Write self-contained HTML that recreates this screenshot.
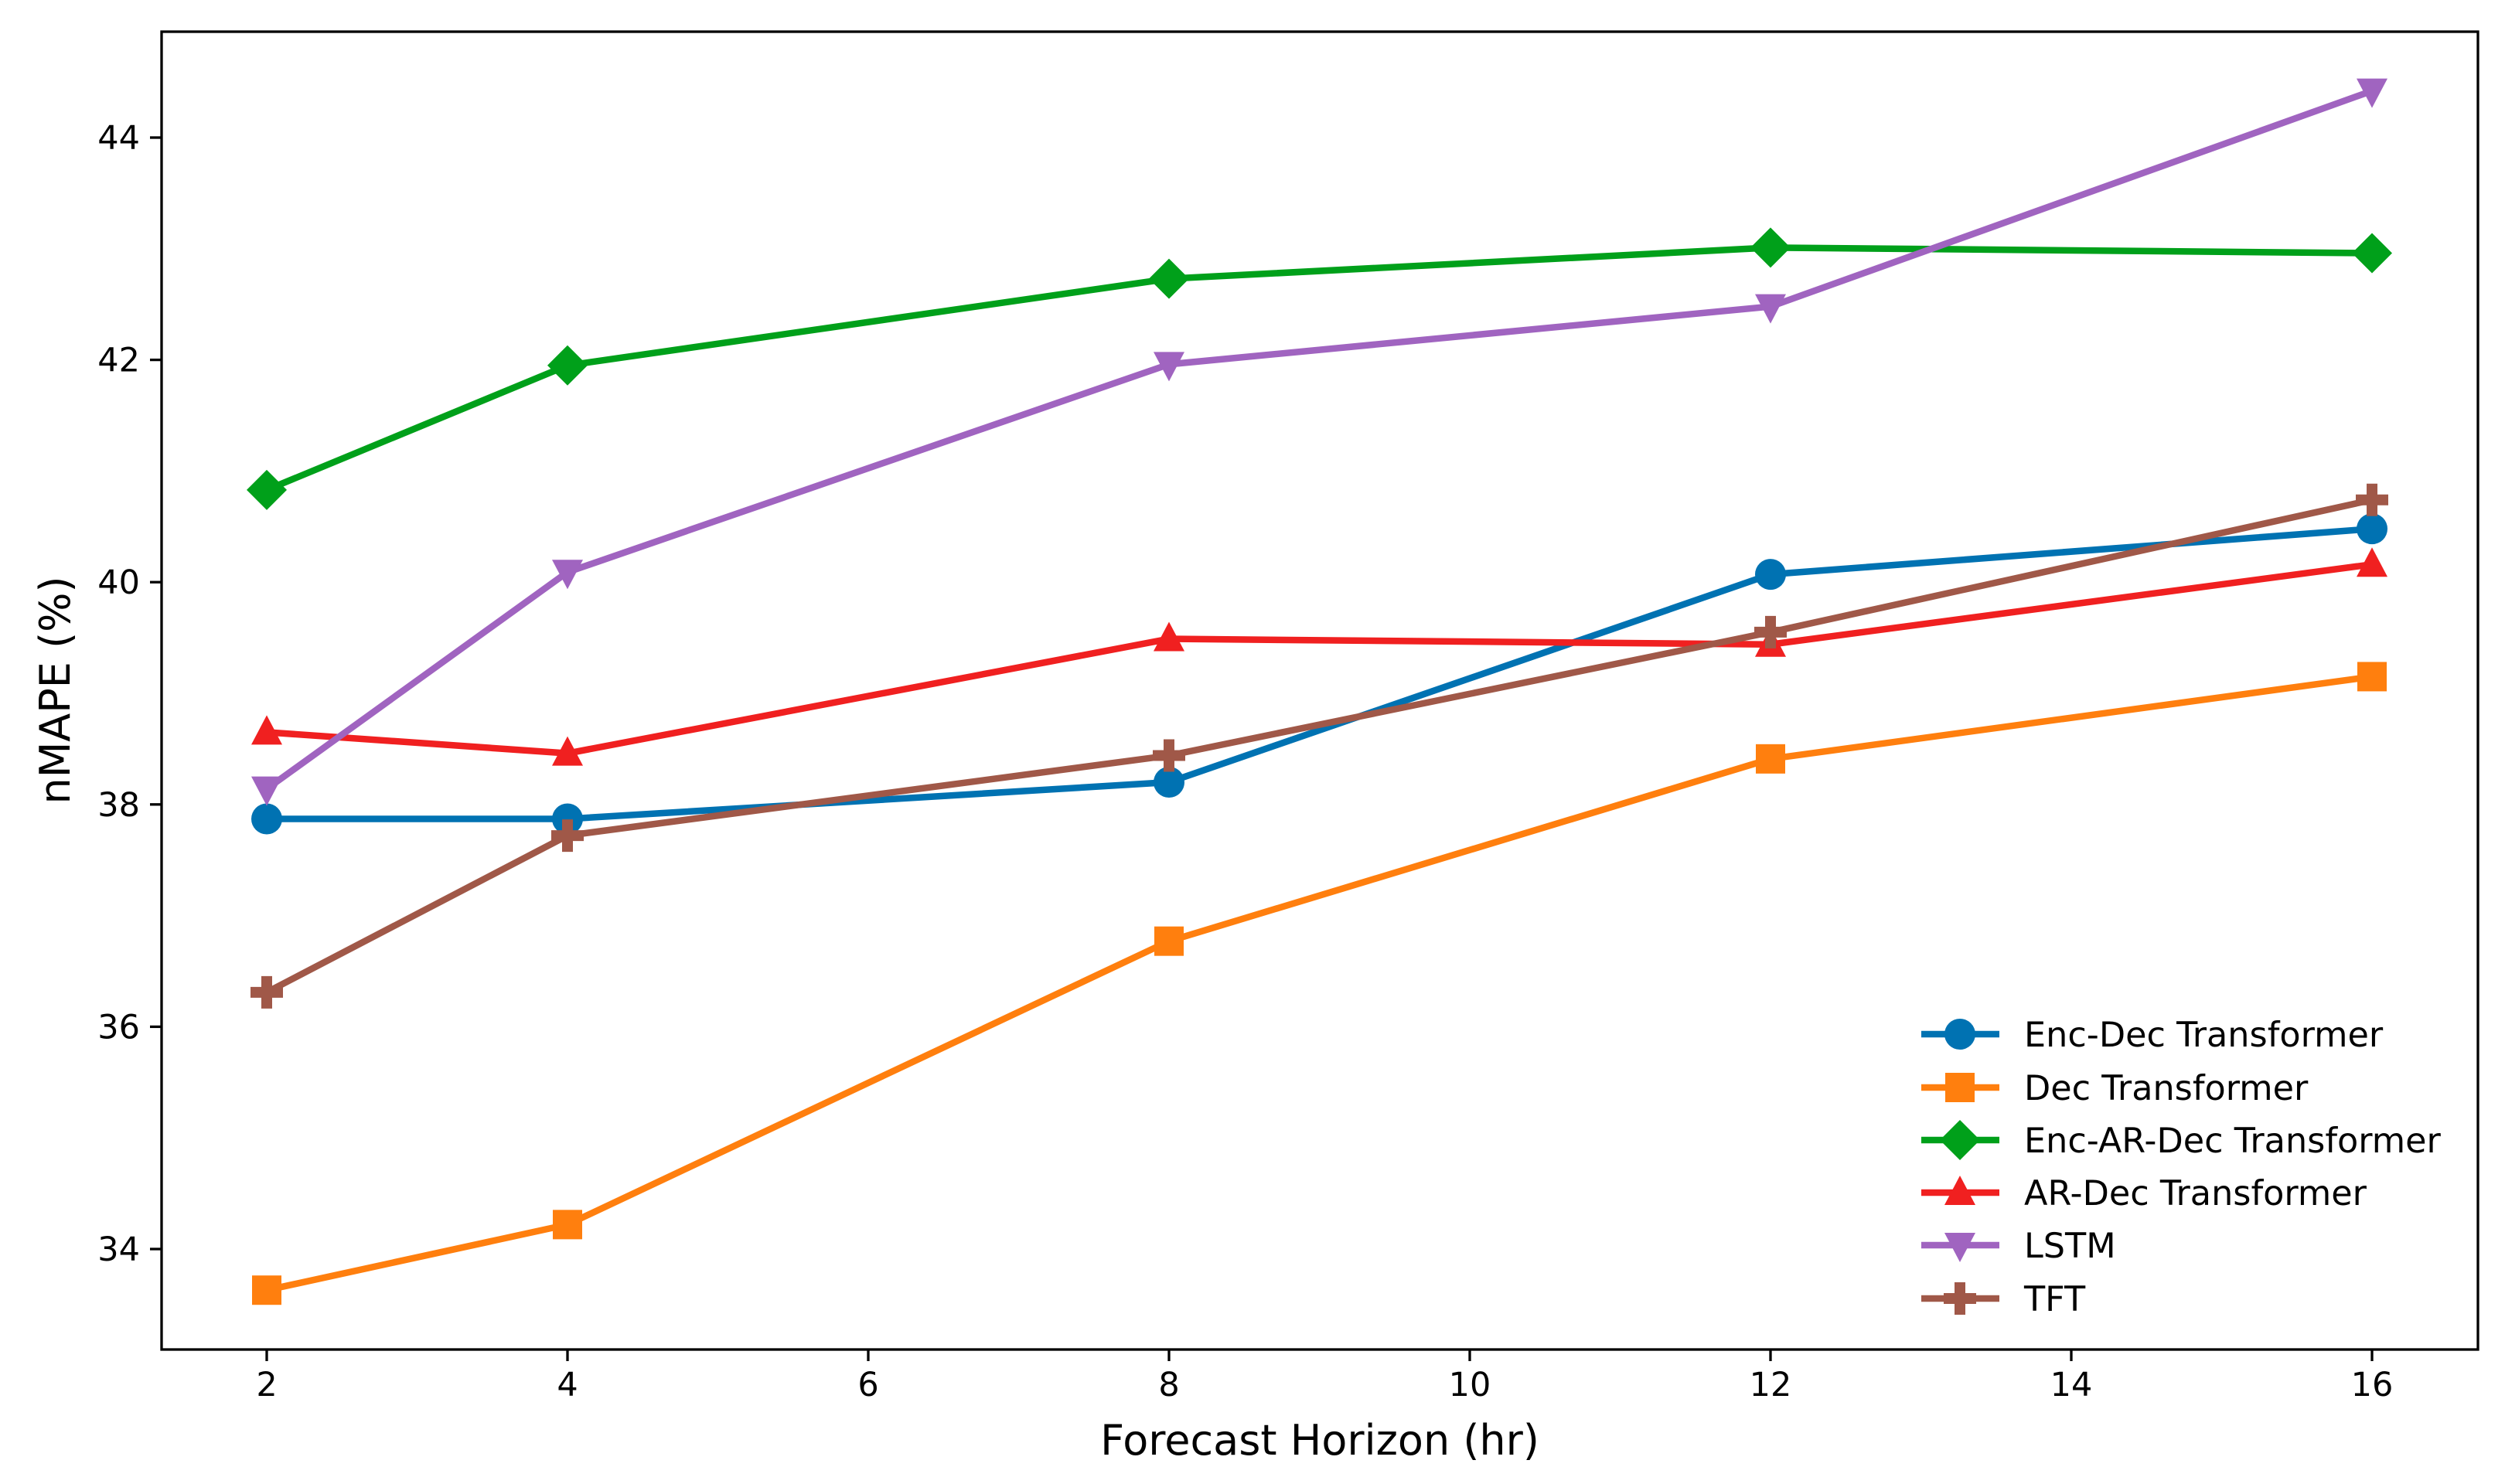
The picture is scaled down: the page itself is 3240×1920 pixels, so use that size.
<!DOCTYPE html>
<html><head><meta charset="utf-8">
<style>
html,body{margin:0;padding:0;background:#fff;}
svg{display:block;}
text{font-family:"DejaVu Sans","Liberation Sans",sans-serif;fill:#000;}
</style></head>
<body>
<svg id="chart" width="3240" height="1920" viewBox="0 0 3240 1920" xmlns="http://www.w3.org/2000/svg"></svg>
<script>
const xValues = [2, 4, 8, 12, 16];
const seriesNames = ["Enc-Dec Transformer","Dec Transformer","Enc-AR-Dec Transformer","AR-Dec Transformer","LSTM","TFT"];
const encDec = [37.87, 37.87, 38.2, 40.07, 40.48];
const dec = [33.63, 34.22, 36.77, 38.41, 39.15];
const encArDec = [40.83, 41.95, 42.73, 43.01, 42.96];
const arDec = [38.65, 38.46, 39.49, 39.44, 40.16];
const lstm = [38.14, 40.09, 41.96, 42.48, 44.42];
const tft = [36.31, 37.72, 38.44, 39.55, 40.74];
const xTicks = [2, 4, 6, 8, 10, 12, 14, 16];
const yTicks = [34, 36, 38, 40, 42, 44];

const seriesData = [encDec, dec, encArDec, arDec, lstm, tft];
const colors = ["#0072b2","#ff7f0e","#00a01a","#f02020","#a064c0","#a05848"];
const markers = ["circle","square","diamond","tri-up","tri-down","plus"];
const NS = "http://www.w3.org/2000/svg";
const svg = document.getElementById("chart");
const L=209, T=41, R=3205, B=1746;
function xs(v){ return 345 + (v-2)*(3068-345)/14; }
function ys(v){ return 178 + (44-v)*(1616-178)/10; }
function mk(tag, attrs, parent){
  const e=document.createElementNS(NS,tag);
  for(const k in attrs) e.setAttribute(k, attrs[k]);
  (parent||svg).appendChild(e); return e;
}
function marker(type, x, y, color, parent){
  const s=23; let e;
  if(type==="circle") e=mk("circle",{cx:x,cy:y,r:20,fill:color},parent);
  else if(type==="square") e=mk("rect",{x:x-19,y:y-19,width:38,height:38,fill:color},parent);
  else if(type==="diamond") e=mk("polygon",{points:`${x},${y-s-3} ${x+s+3},${y} ${x},${y+s+3} ${x-s-3},${y}`,fill:color},parent);
  else if(type==="tri-up") e=mk("polygon",{points:`${x},${y-22} ${x+20},${y+16} ${x-20},${y+16}`,fill:color},parent);
  else if(type==="tri-down") e=mk("polygon",{points:`${x},${y+22} ${x+20},${y-16} ${x-20},${y-16}`,fill:color},parent);
  else e=mk("path",{d:`M${x-7},${y-21}h14v14h14v14h-14v14h-14v-14h-14v-14h14z`,fill:color},parent);
  return e;
}
const xt=mk("g",{});


xTicks.forEach(v=>{
  const x=xs(v);
  mk("line",{x1:x,y1:B,x2:x,y2:B+15,stroke:"#000","stroke-width":3.3},xt);
  const t=mk("text",{x:x,y:B+60,"font-size":43,"text-anchor":"middle"},xt);
  
  
  t.textContent=v;
});
const yt=mk("g",{});


yTicks.forEach(v=>{
  const y=ys(v);
  mk("line",{x1:L-15,y1:y,x2:L,y2:y,stroke:"#000","stroke-width":3.3},yt);
  const t=mk("text",{x:L-28,y:y+15,"font-size":43,"text-anchor":"end"},yt);
  
  
  t.textContent=v;
});
seriesData.forEach((arr,i)=>{
  const g=mk("g",{});
  
  
  const pts=arr.map((v,j)=>xs(xValues[j])+","+ys(v)).join(" ");
  mk("polyline",{points:pts,fill:"none",stroke:colors[i],"stroke-width":8.5,"stroke-linejoin":"round"},g);
  arr.forEach((v,j)=>{
    const m=marker(markers[i], xs(xValues[j]), ys(v), colors[i], g);
    
    
  });
});
const fr=mk("rect",{x:L,y:T,width:R-L,height:B-T,fill:"none",stroke:"#000","stroke-width":3.3});


const lg=mk("g",{});


const legY=[1338,1407,1475,1543,1611,1680];
seriesNames.forEach((n,i)=>{
  const y=legY[i];
  const e=mk("g",{},lg);
  
  
  mk("line",{x1:2485,y1:y,x2:2586,y2:y,stroke:colors[i],"stroke-width":8.5},e);
  marker(markers[i],2535,y,colors[i],e);
  const t=mk("text",{x:2618,y:y+16,"font-size":44.5},e);
  t.textContent=n;
});
const xl=mk("text",{x:1707,y:1882,"font-size":54,"text-anchor":"middle"});


xl.textContent="Forecast Horizon (hr)";
const yl=mk("text",{x:0,y:0,"font-size":54,"text-anchor":"middle",transform:"translate(90,893) rotate(-90)"});


yl.textContent="nMAPE (%)";
</script>
</body></html>
